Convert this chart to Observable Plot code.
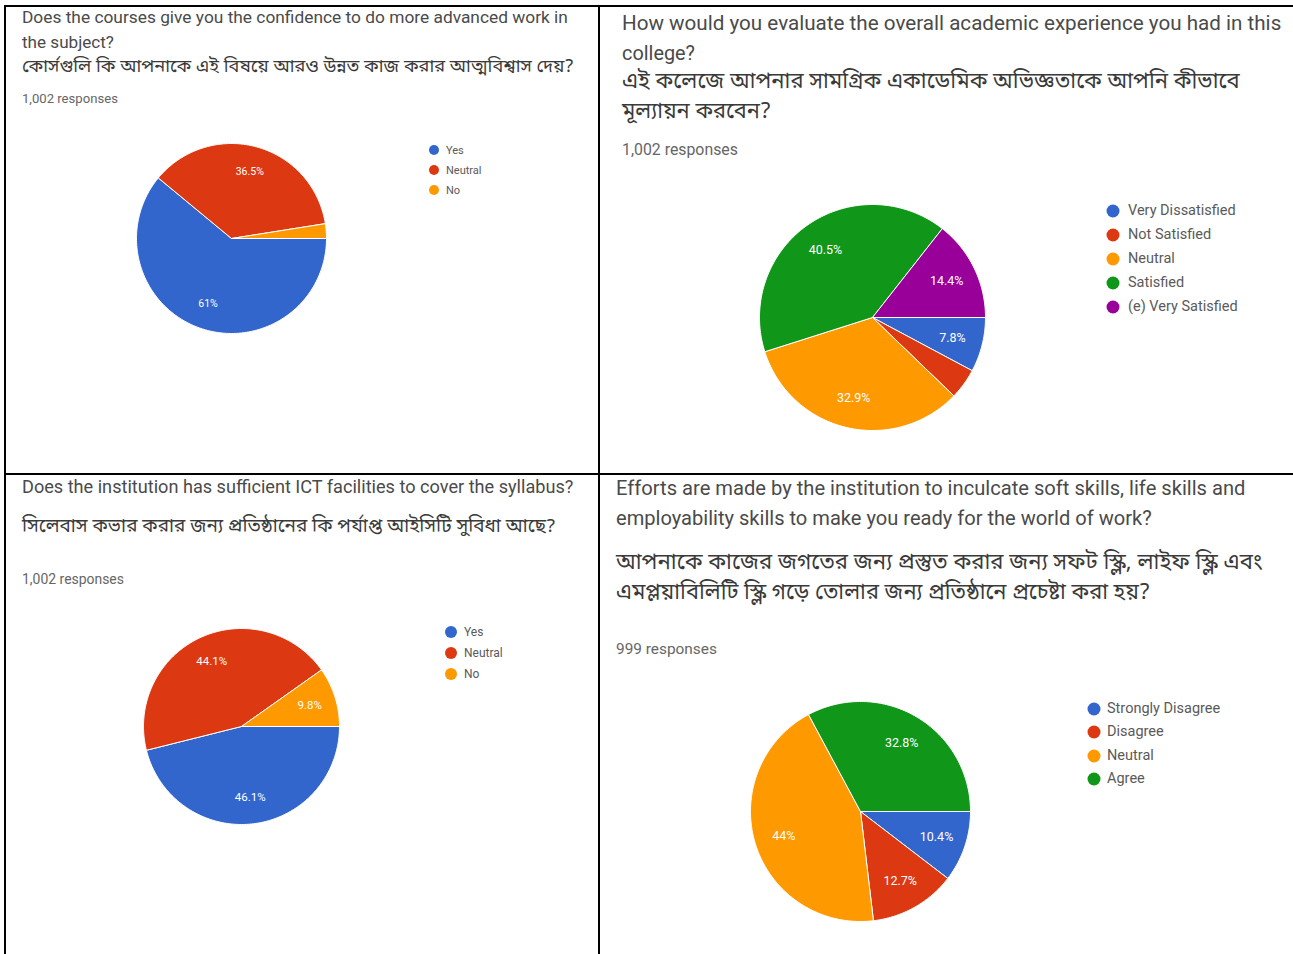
<!DOCTYPE html>
<html><head><meta charset="utf-8">
<script src="https://cdn.jsdelivr.net/npm/d3@7"></script>
<script src="https://cdn.jsdelivr.net/npm/@observablehq/plot@0.6"></script>
<style>
body{margin:0;background:#fff;}
#page{position:relative;width:1293px;height:954px;overflow:hidden;font-family:Roboto,"Noto Sans",sans-serif;background:#fff;}
.t{position:absolute;white-space:nowrap;color:#4a4a4a;line-height:1;transform:translateY(-50%);}
.bn{font-family:"Noto Sans Bengali","Lohit Bengali","Noto Serif Bengali","FreeSans",Roboto,sans-serif;color:#3a3a3a;}
.resp{color:#666;}
.rule{position:absolute;background:#000;}
.sw{position:absolute;border-radius:50%;transform:translate(-50%,-50%);}
.lt{position:absolute;white-space:nowrap;color:#5a5a5a;line-height:1;transform:translateY(-50%);}
.pie{position:absolute;}
</style></head><body><div id="page"></div>
<script>
// ---------- data ----------
const q1Categories = ["Yes", "Neutral", "No"];
const q1Values = [61, 36.5, 2.5];
const q1Title = ["Does the courses give you the confidence to do more advanced work in", "the subject?"];
const q1Bengali = ["কোর্সগুলি কি আপনাকে এই বিষয়ে আরও উন্নত কাজ করার আত্মবিশ্বাস দেয়?"];
const q1Responses = "1,002 responses";

const q2Categories = ["Very Dissatisfied", "Not Satisfied", "Neutral", "Satisfied", "(e) Very Satisfied"];
const q2Values = [7.8, 4.4, 32.9, 40.5, 14.4];
const q2Title = ["How would you evaluate the overall academic experience you had in this", "college?"];
const q2Bengali = ["এই কলেজে আপনার সামগ্রিক একাডেমিক অভিজ্ঞতাকে আপনি কীভাবে", "মূল্যায়ন করবেন?"];
const q2Responses = "1,002 responses";

const q3Categories = ["Yes", "Neutral", "No"];
const q3Values = [46.1, 44.1, 9.8];
const q3Title = ["Does the institution has sufficient ICT facilities to cover the syllabus?"];
const q3Bengali = ["সিলেবাস কভার করার জন্য প্রতিষ্ঠানের কি পর্যাপ্ত আইসিটি সুবিধা আছে?"];
const q3Responses = "1,002 responses";

const q4Categories = ["Strongly Disagree", "Disagree", "Neutral", "Agree"];
const q4Values = [10.4, 12.7, 44, 32.8];
const q4Title = ["Efforts are made by the institution to inculcate soft skills, life skills and", "employability skills to make you ready for the world of work?"];
const q4Bengali = ["আপনাকে কাজের জগতের জন্য প্রস্তুত করার জন্য সফট স্কিল, লাইফ স্কিল এবং", "এমপ্লয়াবিলিটি স্কিল গড়ে তোলার জন্য প্রতিষ্ঠানে প্রচেষ্টা করা হয়?"];
const q4Responses = "999 responses";

const palette = ["#3366cc", "#dc3912", "#ff9900", "#109618", "#990099"];

// ---------- layout ----------
const page = document.getElementById("page");

function rule(x, y, w, h) {
  const d = document.createElement("div");
  d.className = "rule";
  Object.assign(d.style, {left: x + "px", top: y + "px", width: w + "px", height: h + "px"});
  page.appendChild(d);
}
rule(4, 5, 1289, 2);
rule(4, 5, 2, 949);
rule(598, 5, 2, 949);
rule(4, 473, 1289, 2);

function text(str, x, y, size, target, cls) {
  const d = document.createElement("div");
  d.className = "t " + (cls || "");
  d.textContent = str;
  d.style.left = x + "px";
  d.style.top = y + "px";
  d.style.fontSize = size + "px";
  page.appendChild(d);
  if (target) {
    const w = d.getBoundingClientRect().width;
    if (w > 0) d.style.fontSize = (size * target / w) + "px";
  }
  return d;
}

function slices(cats, vals) {
  const total = d3.sum(vals);
  let a0 = 0;
  const pts = [], labels = [];
  cats.forEach((c, i) => {
    const a1 = a0 + vals[i] / total * 2 * Math.PI;
    const n = Math.max(2, Math.ceil((a1 - a0) / (Math.PI / 180)));
    pts.push({k: c, x: 0, y: 0});
    for (let j = 0; j <= n; j++) {
      const a = a0 + (a1 - a0) * j / n;
      pts.push({k: c, x: Math.cos(a), y: Math.sin(a)});
    }
    pts.push({k: c, x: 0, y: 0});
    const m = (a0 + a1) / 2;
    labels.push({k: c, v: vals[i], x: 0.73 * Math.cos(m), y: 0.73 * Math.sin(m)});
    a0 = a1;
  });
  return {pts, labels};
}

function pie(cats, vals, cx, cy, r, labelSize) {
  const {pts, labels} = slices(cats, vals);
  const size = 2 * r + 2;
  const chart = Plot.plot({
    width: size, height: size, margin: 1,
    style: {background: "transparent", fontFamily: "Roboto, sans-serif", maxWidth: "none"},
    x: {domain: [-1, 1], axis: null},
    y: {domain: [-1, 1], axis: null, reverse: true},
    color: {domain: cats, range: palette.slice(0, cats.length)},
    marks: [
      Plot.line(pts, {x: "x", y: "y", z: "k", fill: "k", stroke: "white", strokeWidth: 1, strokeLinejoin: "round"}),
      Plot.text(labels.filter(d => d.v >= 5), {x: "x", y: "y", text: d => d.v + "%", fill: "white", fontSize: labelSize})
    ]
  });
  const wrap = document.createElement("div");
  wrap.className = "pie";
  wrap.style.left = (cx - r - 1) + "px";
  wrap.style.top = (cy - r - 1) + "px";
  wrap.appendChild(chart);
  page.appendChild(wrap);
}

function legend(cats, x, y0, gap, dot, size, tx) {
  cats.forEach((c, i) => {
    const s = document.createElement("div");
    s.className = "sw";
    Object.assign(s.style, {left: x + "px", top: (y0 + i * gap) + "px", width: dot + "px", height: dot + "px", background: palette[i]});
    page.appendChild(s);
    const t = document.createElement("div");
    t.className = "lt";
    t.textContent = c;
    Object.assign(t.style, {left: tx + "px", top: (y0 + i * gap) + "px", fontSize: size + "px"});
    page.appendChild(t);
  });
}

// Panel 1
text(q1Title[0], 22, 18, 15, 546);
text(q1Title[1], 22, 43, 15, 92);
text(q1Bengali[0], 22, 67, 17, 552, "bn");
text(q1Responses, 22, 99, 11, 96, "resp");
pie(q1Categories, q1Values, 231, 238, 95, 10.5);
legend(q1Categories, 434, 150, 20, 10, 11, 446);

// Panel 2
text(q2Title[0], 622, 23, 18, 660);
text(q2Title[1], 622, 54, 18, 73);
text(q2Bengali[0], 622, 83, 21, 618, "bn");
text(q2Bengali[1], 622, 113, 21, 149, "bn");
text(q2Responses, 622, 150, 14, 116, "resp");
pie(q2Categories, q2Values, 872, 317, 113, 12.5);
legend(q2Categories, 1113, 211, 24, 13, 14.5, 1128);

// Panel 3
text(q3Title[0], 22, 487, 15, 552);
text(q3Bengali[0], 22, 528, 18, 534, "bn");
text(q3Responses, 22, 580, 11, 102, "resp");
pie(q3Categories, q3Values, 241, 726, 98, 11.5);
legend(q3Categories, 451, 632, 21, 12, 12, 464);

// Panel 4
text(q4Title[0], 616, 488, 17, 630);
text(q4Title[1], 616, 518, 17, 536);
text(q4Bengali[0], 616, 564, 20, 647, "bn");
text(q4Bengali[1], 616, 594, 20, 534, "bn");
text(q4Responses, 616, 650, 13, 101, "resp");
pie(q4Categories, q4Values, 860, 811, 110, 12.5);
legend(q4Categories, 1094, 709, 23.3, 13, 14.5, 1107);
</script>
</body></html>
